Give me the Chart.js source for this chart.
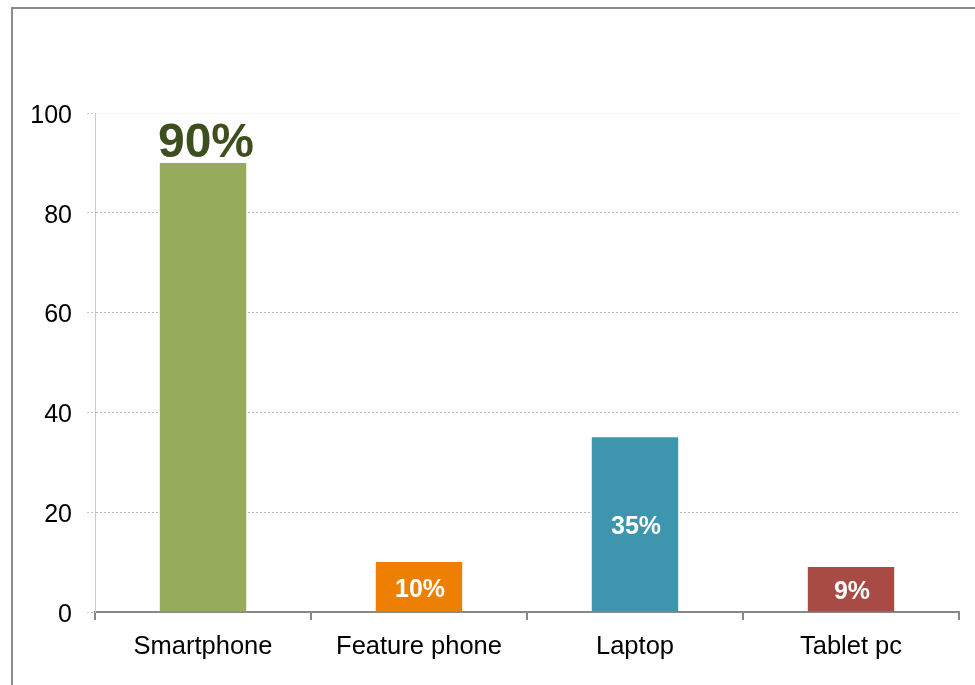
<!DOCTYPE html>
<html>
<head>
<meta charset="utf-8">
<script src="https://cdn.jsdelivr.net/npm/chart.js@4/dist/chart.umd.min.js"></script>
<style>
  html, body { margin: 0; padding: 0; background: #fff; }
  #wrap { width: 975px; height: 685px; position: relative; }
</style>
</head>
<body>
<div id="wrap"><canvas id="deviceChart" width="975" height="685"></canvas></div>
<script>
// device usage shares
const devices = ['Smartphone', 'Feature phone', 'Laptop', 'Tablet pc'];
const shares = [90, 10, 35, 9];
const barColors = ['#97ab5c', '#ed8003', '#3d96ae', '#a84b45'];
const yTicks = [0, 20, 40, 60, 80, 100];

const fontFamily = '"Liberation Sans", Arial, sans-serif';

// outer frame around the whole figure
const framePlugin = {
  id: 'frame',
  beforeDraw(chart) {
    const ctx = chart.ctx;
    ctx.save();
    ctx.fillStyle = '#fff';
    ctx.fillRect(0, 0, chart.width, chart.height);
    ctx.strokeStyle = '#8a8a8a';
    ctx.lineWidth = 2;
    ctx.strokeRect(12, 8, chart.width + 20, chart.height + 20);
    ctx.restore();
  }
};

// percentage labels: first bar gets a big label on top, the rest sit inside
const valueLabels = {
  id: 'valueLabels',
  afterDatasetsDraw(chart) {
    const ctx = chart.ctx;
    const meta = chart.getDatasetMeta(0);
    ctx.save();
    ctx.textAlign = 'center';
    meta.data.forEach((bar, i) => {
      const txt = shares[i] + '%';
      if (i === 0) {
        ctx.font = 'bold 48px ' + fontFamily;
        ctx.fillStyle = '#3e4f1f';
        ctx.textBaseline = 'alphabetic';
        ctx.fillText(txt, bar.x + 3, bar.y - 6);
      } else {
        ctx.font = 'bold 25px ' + fontFamily;
        ctx.fillStyle = '#fff';
        ctx.textBaseline = 'middle';
        ctx.fillText(txt, bar.x + 1, (bar.y + bar.base) / 2 + 3);
      }
    });
    ctx.restore();
  }
};

const ctx = document.getElementById('deviceChart').getContext('2d');
new Chart(ctx, {
  type: 'bar',
  data: {
    labels: devices,
    datasets: [{
      data: shares,
      backgroundColor: barColors,
      borderWidth: 0,
      barPercentage: 0.4,
      categoryPercentage: 1
    }]
  },
  options: {
    responsive: false,
    animation: false,
    devicePixelRatio: 1,
    layout: { padding: { top: 113, right: 16, left: 0, bottom: 0 } },
    plugins: {
      legend: { display: false },
      tooltip: { enabled: false }
    },
    scales: {
      x: {
        grid: {
          offset: true,
          drawOnChartArea: false,
          drawTicks: true,
          tickLength: 8,
          color: '#888',
          lineWidth: 2
        },
        border: { color: '#888', width: 2 },
        ticks: {
          color: '#000',
          padding: 12,
          font: { family: fontFamily, size: 25.5 }
        },
        afterFit(scale) { scale.height = 73; }
      },
      y: {
        min: 0,
        max: 100,
        afterBuildTicks(scale) {
          scale.ticks = yTicks.map(v => ({ value: v }));
        },
        grid: {
          color: c => (c.tick && c.tick.value === 100 ? '#eeeeee' : '#b8b8b8'),
          tickColor: '#c8c8c8',
          tickLength: 8,
          lineWidth: 1,
          tickBorderDash: [2, 2]
        },
        border: { color: '#c8c8c8', width: 1, dash: [2, 2] },
        ticks: {
          color: '#000',
          padding: 15,
          labelOffset: 3,
          font: { family: fontFamily, size: 25 }
        },
        afterFit(scale) { scale.width = 95; }
      }
    }
  },
  plugins: [framePlugin, valueLabels]
});
</script>
</body>
</html>
